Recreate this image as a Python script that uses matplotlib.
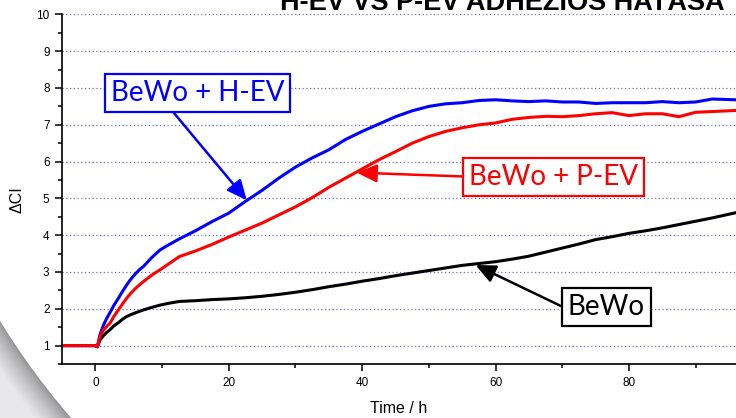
import matplotlib
matplotlib.use("Agg")
import matplotlib.pyplot as plt
from matplotlib.patches import Circle, Rectangle
from matplotlib.ticker import MultipleLocator

# measured time points (h) and cell index curves
time_h = [-5, 0, 0.3, 0.7, 1.2, 1.7, 2.2, 2.8, 3.5, 4.1, 4.7, 5.3, 6, 6.6, 7.2,
          8.5, 9.7, 11, 12.6, 15, 17.5, 20, 22.5, 25, 27.5, 30, 32.5, 35, 37.5,
          40, 42.5, 45, 47.5, 50, 52.5, 55, 57.5, 60, 62.5, 65, 67.5, 70, 72.5,
          75, 77.5, 80, 82.5, 85, 87.5, 90, 92.5, 96]
bewo_hev = [1.0, 1.0, 0.97, 1.3, 1.55, 1.74, 1.9, 2.1, 2.3, 2.48, 2.65, 2.8,
            2.95, 3.06, 3.15, 3.4, 3.6, 3.74, 3.9, 4.12, 4.37, 4.6, 4.92, 5.22,
            5.55, 5.85, 6.1, 6.32, 6.6, 6.82, 7.02, 7.22, 7.38, 7.5, 7.57, 7.6,
            7.66, 7.68, 7.65, 7.63, 7.65, 7.62, 7.62, 7.58, 7.6, 7.6, 7.6, 7.63,
            7.6, 7.62, 7.7, 7.68]
bewo_pev = [1.0, 1.0, 0.97, 1.25, 1.42, 1.52, 1.61, 1.8, 1.98, 2.14, 2.29, 2.42,
            2.55, 2.65, 2.74, 2.92, 3.06, 3.22, 3.42, 3.57, 3.75, 3.95, 4.14,
            4.33, 4.55, 4.77, 5.02, 5.3, 5.55, 5.8, 6.05, 6.27, 6.5, 6.68, 6.82,
            6.92, 7.0, 7.05, 7.15, 7.2, 7.23, 7.22, 7.25, 7.3, 7.33, 7.25, 7.3,
            7.3, 7.22, 7.34, 7.36, 7.39]
bewo = [1.0, 1.0, 0.97, 1.15, 1.27, 1.36, 1.43, 1.54, 1.63, 1.72, 1.79, 1.84,
        1.89, 1.93, 1.97, 2.04, 2.1, 2.15, 2.2, 2.22, 2.25, 2.27, 2.3, 2.34,
        2.39, 2.45, 2.52, 2.6, 2.67, 2.75, 2.82, 2.9, 2.97, 3.04, 3.11, 3.18,
        3.23, 3.28, 3.35, 3.43, 3.54, 3.65, 3.76, 3.88, 3.96, 4.05, 4.12, 4.2,
        4.29, 4.38, 4.47, 4.61]

plt.rcParams['font.family'] = ['Liberation Sans', 'DejaVu Sans']

W, H = 736, 418
fig = plt.figure(figsize=(W / 100, H / 100), dpi=100)

# slide background: white disc with a soft shadow in the lower-left corner
bg = fig.add_axes([0, 0, 1, 1], zorder=0)
bg.set_xlim(0, W)
bg.set_ylim(H, 0)
bg.axis('off')
bg.add_patch(Rectangle((0, 0), W, H, color='#e7e7ec'))
cx, cy, r = 623, -61, 730
n = 22
for k in range(n, 0, -1):
    f = k / n
    g = 0.55 + 0.36 * f ** 0.7
    bg.add_patch(Circle((cx - 3 * f, cy + 6 * f), r + k, color=(g, g, g + 0.02 * f)))
bg.add_patch(Circle((cx, cy), r, color='white'))

ax = fig.add_axes([62 / W, 54 / H, 674 / W, 349.6 / H], zorder=1)
ax.patch.set_alpha(0)

ax.plot(time_h, bewo, color='black', lw=2.2)
ax.plot(time_h, bewo_hev, color='#0000ff', lw=2.2)
ax.plot(time_h, bewo_pev, color='#ff0000', lw=2.2)

ax.set_xlim(-5, 96.05)
ax.set_ylim(0.5, 10)
ax.xaxis.set_major_locator(MultipleLocator(20))
ax.xaxis.set_minor_locator(MultipleLocator(10))
ax.yaxis.set_major_locator(MultipleLocator(1))
ax.yaxis.set_minor_locator(MultipleLocator(0.5))
ax.tick_params(which='both', direction='out', width=1.1, labelsize=8.5, pad=4)
ax.tick_params(which='major', length=5)
ax.tick_params(which='minor', length=3)
for side in ['top', 'right']:
    ax.spines[side].set_visible(False)
for side in ['left', 'bottom']:
    ax.spines[side].set_linewidth(1.2)

ax.yaxis.grid(True, which='major', linestyle=(0, (1, 2)), color='#6b6bef', lw=0.9)
ax.get_ygridlines()[-1].set_visible(False)

ax.set_xlabel('Time / h', fontsize=11.5, labelpad=9)
ax.set_ylabel('ΔCI', fontsize=11.5)
ax.yaxis.set_label_coords(-0.055, 0.47)

box_font = dict(family=['Lato', 'DejaVu Sans'], fontsize=20)
head = '-|>,head_length=0.55,head_width=0.25'

ax.annotate('BeWo + H-EV', xy=(22.7, 4.95), xytext=(15.3, 7.87),
            ha='center', va='center', color='#0000ff', **box_font,
            bbox=dict(boxstyle='square,pad=0.22', fc='white', ec='#0000ff', lw=1.6),
            arrowprops=dict(arrowstyle=head, color='#0000ff', lw=1.8,
                            mutation_scale=22, relpos=(0.33, 0), shrinkA=0, shrinkB=0))
ax.annotate('BeWo + P-EV', xy=(39.2, 5.7), xytext=(68.7, 5.59),
            ha='center', va='center', color='#ff0000', **box_font,
            bbox=dict(boxstyle='square,pad=0.22', fc='white', ec='#ff0000', lw=1.6),
            arrowprops=dict(arrowstyle=head, color='#ff0000', lw=1.8,
                            mutation_scale=22, relpos=(0, 0.5), shrinkA=0, shrinkB=0))
ax.annotate('BeWo', xy=(57.0, 3.19), xytext=(76.6, 2.05),
            ha='center', va='center', color='black', **box_font,
            bbox=dict(boxstyle='square,pad=0.22', fc='white', ec='black', lw=1.6),
            arrowprops=dict(arrowstyle=head, color='black', lw=1.8,
                            mutation_scale=22, relpos=(0, 0.41), shrinkA=0, shrinkB=0))

# slide title, cut off by the top edge of the picture
fig.text(502 / W, 408.5 / H, 'H-EV VS P-EV ADHÉZIÓS HATÁSA', ha='center',
         va='baseline', fontsize=19.5, fontweight='bold')

fig.savefig('out.png', dpi=100)
